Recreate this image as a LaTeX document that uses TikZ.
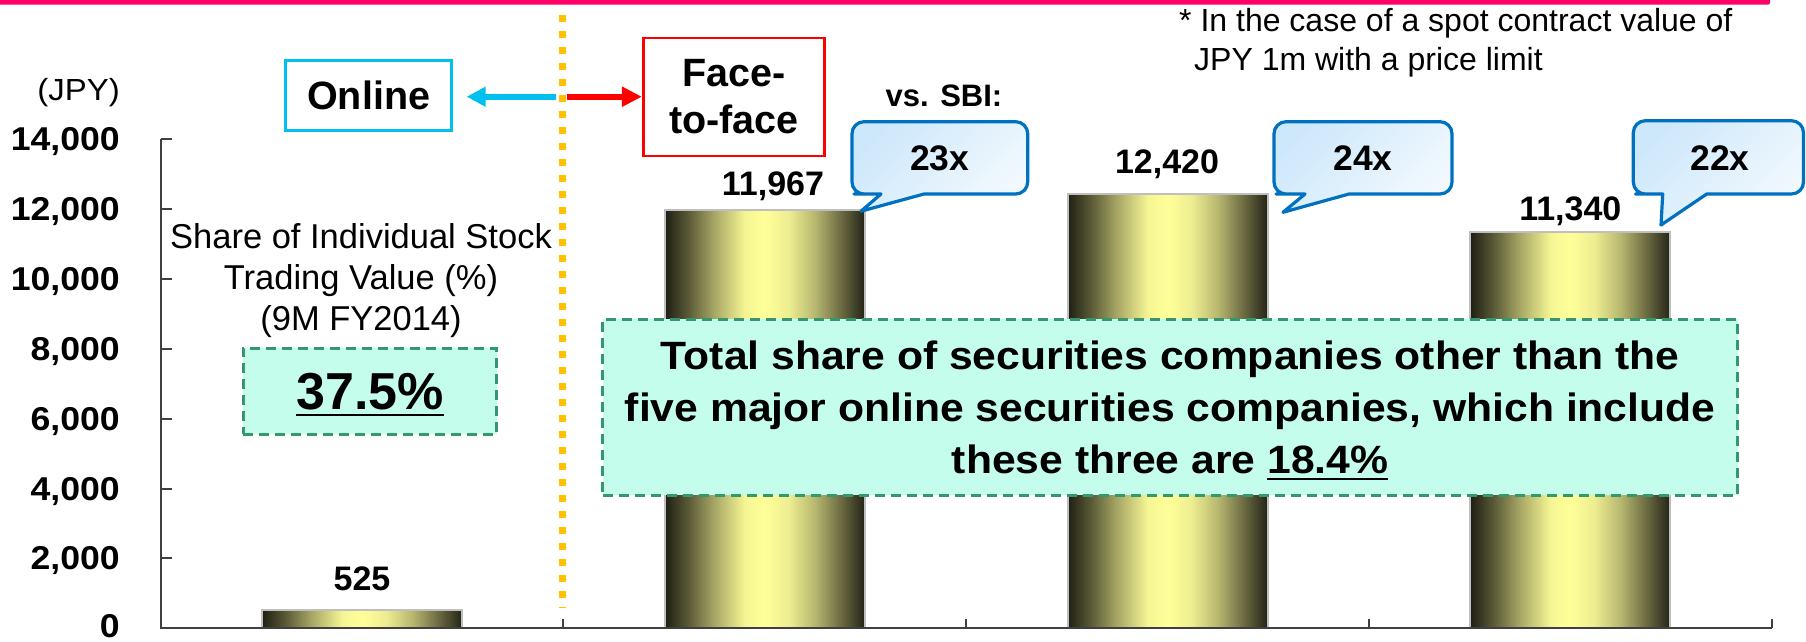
\documentclass[tikz,border=0pt]{standalone}
\usepackage{fontspec}
\setmainfont{Liberation Sans}
\newfontfamily\widesans{Liberation Sans}[FakeStretch=1.08]
\usetikzlibrary{arrows.meta}
\definecolor{pinkbar}{RGB}{255,0,102}
\definecolor{axisgray}{RGB}{64,64,64}
\definecolor{onlineblue}{RGB}{0,192,240}
\definecolor{facered}{RGB}{255,0,0}
\definecolor{dotgold}{RGB}{255,192,0}
\definecolor{boxgreen}{RGB}{52,152,108}
\definecolor{mint}{RGB}{197,253,236}
\definecolor{bubbleline}{RGB}{0,112,192}
\definecolor{bubbleA}{RGB}{206,232,251}
\definecolor{bubbleB}{RGB}{242,249,254}
\definecolor{bargray}{RGB}{191,191,191}
\pgfdeclarehorizontalshading{barshade}{100bp}{rgb(0bp)=(0.12,0.12,0.08); rgb(25bp)=(0.12,0.12,0.08); rgb(31bp)=(0.36,0.36,0.22); rgb(37.5bp)=(0.66,0.66,0.40); rgb(45bp)=(0.96,0.96,0.58); rgb(50bp)=(1,1,0.6); rgb(56bp)=(0.93,0.93,0.57); rgb(62.5bp)=(0.72,0.72,0.44); rgb(69bp)=(0.42,0.42,0.26); rgb(75bp)=(0.14,0.14,0.09); rgb(100bp)=(0.14,0.14,0.09)}
\newsavebox{\myulbox}
\newcommand{\myul}[1]{\sbox{\myulbox}{#1}\rlap{\smash{\rule[-7pt]{\wd\myulbox}{2.4pt}}}\usebox{\myulbox}}
\newcommand{\fsz}[2]{\fontsize{#1pt}{#2pt}\selectfont}
\tikzset{
  axisline/.style={draw=axisgray, line width=2pt},
  ticklab/.style={anchor=base east, inner sep=0, font={\widesans\fsz{33}{40}\bfseries}},
  barnode/.style={rectangle, shade, shading=barshade, draw=bargray, line width=2pt, minimum width=200pt, inner sep=0, outer sep=0, anchor=south},
  vallab/.style={anchor=base, inner sep=0, font={\fsz{34}{40}\bfseries}},
  greenbox/.style={draw=boxgreen, fill=mint, line width=3pt, dash pattern=on 10pt off 6pt, inner sep=0, outer sep=0},
  bubble/.style={draw=bubbleline, line width=3.2pt, line join=round, top color=bubbleA, bottom color=bubbleB, shading angle=45},
  bubbletext/.style={inner sep=0, font={\fsz{35.5}{42}\bfseries}},
  catbox/.style={line width=2.5pt, inner sep=0, outer sep=0, font={\fsz{39.5}{46.7}\bfseries}, align=center}
}
\begin{document}
\begin{tikzpicture}[x=1pt,y=-1pt]
\useasboundingbox (0,0) rectangle (1806,641);
\fill[white] (0,0) rectangle (1806,641);
% top pink band
\fill[pinkbar, rounded corners=2pt] (-6,-6) rectangle (1770,4.6);
% bars
\node[barnode, minimum height=18.35pt] (bar0) at (362.1,628.3) {};
\node[barnode, minimum height=418.25pt] (bar1) at (764.8,628.3) {};
\node[barnode, minimum height=434.1pt] (bar2) at (1167.6,628.3) {};
\node[barnode, minimum height=396.3pt] (bar3) at (1570.3,628.3) {};
% axes
\draw[axisline] (160.7,139) -- (160.7,628.3) -- (1771.7,628.3);
\foreach \y in {139,208.9,278.8,348.7,418.6,488.5,558.4}
  \draw[axisline] (160.7,\y) -- (171.7,\y);
\foreach \x in {563.4,966.2,1369,1771.7}
  \draw[axisline] (\x,628.3) -- (\x,618.6);
\foreach \y/\t [count=\i] in {625.5/0, 558.4/{2,000}, 488.5/{4,000}, 418.6/{6,000}, 348.7/{8,000}, 278.8/{10,000}, 208.9/{12,000}, 139/{14,000}}
  \node[ticklab] (tl\i) at (120,\y+11.5) {\t};
\node[anchor=base east, inner sep=0, font={\widesans\fsz{30.5}{36}}] (jpy) at (120,100) {(JPY)};
% category boxes and arrows
\node[catbox, draw=onlineblue, minimum width=166pt, minimum height=70pt] (online) at (368.7,95.5) {Online};
\node[catbox, draw=facered, minimum width=181pt, minimum height=118pt] (face) at (733.9,96.9) {Face-\\to-face};
\coordinate (split) at (562.3,96.7);
\draw[line width=6pt, onlineblue, -{Triangle[length=19pt,width=19pt]}, shorten <=6pt, shorten >=15pt] (split) -- (split -| online.east);
\draw[line width=6pt, facered, -{Triangle[length=20pt,width=19pt]}, shorten <=4.4pt, shorten >=1.5pt] (split) -- (split -| face.west);
\coordinate (dtop) at (562.3,15);
\coordinate (dbot) at (562.3,608);
\draw[dotgold, line width=7pt, dash pattern=on 6.7pt off 9.3pt] (dtop) -- (dbot);
% left texts
\node[align=center, inner sep=0, font={\fsz{34.5}{41}}] (share) at (361,280.5) {Share of Individual Stock\\Trading Value (\%)\\(9M FY2014)};
\node[greenbox, minimum width=253.6pt, minimum height=85.7pt, font={\fsz{52}{60}\bfseries}] (pct) at (370.1,391.2) {\myul{37.5\%}};
% value labels
\node[vallab] (v0) at (362,590) {525};
\node[vallab] (v1) at (773,195) {11,967};
\node[vallab] (v2) at (1167,173.3) {12,420};
\node[vallab] (v3) at (1570.3,220) {11,340};
\node[anchor=base, inner sep=0, font={\fsz{31}{37}\bfseries}] (vs) at (944,106.7) {vs. SBI:};
% bubbles
\draw[bubble] (924,194) -- (975,194) [rounded corners=12pt] -- (1027.7,194) -- (1027.7,121.7) -- (852,121.7) -- (852,194) -- (866,194) [sharp corners] -- (881,194) -- (861,211.2) -- cycle;
\draw[bubble] (1349,194) -- (1400,194) [rounded corners=12pt] -- (1452,194) -- (1452,121.7) -- (1274,121.7) -- (1274,194) -- (1288,194) [sharp corners] -- (1305,194) -- (1283,212.3) -- cycle;
\draw[bubble] (1706.7,194) -- (1755,194) [rounded corners=12pt] -- (1803.5,194) -- (1803.5,120.7) -- (1633.3,120.7) -- (1633.3,194) -- (1647.5,194) [sharp corners] -- (1662.7,194) -- (1661,225) -- cycle;
\node[bubbletext] (c1t) at (939.8,158) {23x};
\node[bubbletext] (c2t) at (1363,158) {24x};
\node[bubbletext] (c3t) at (1720,158) {22x};
% big note
\node[greenbox, minimum width=1134.8pt, minimum height=175.7pt, align=center, font={\widesans\fsz{39.5}{51.7}\bfseries}] (note) at (1170.1,407.2) {Total share of securities companies other than the\\five major online securities companies, which include\\these three are \myul{18.4\%}};
% footnote
\node[anchor=north west, align=left, inner sep=0, font={\fsz{32}{38.3}}] (fn) at (1179,8.5) {* In the case of a spot contract value of\\\hspace*{15pt}JPY 1m with a price limit};
\end{tikzpicture}
\end{document}
